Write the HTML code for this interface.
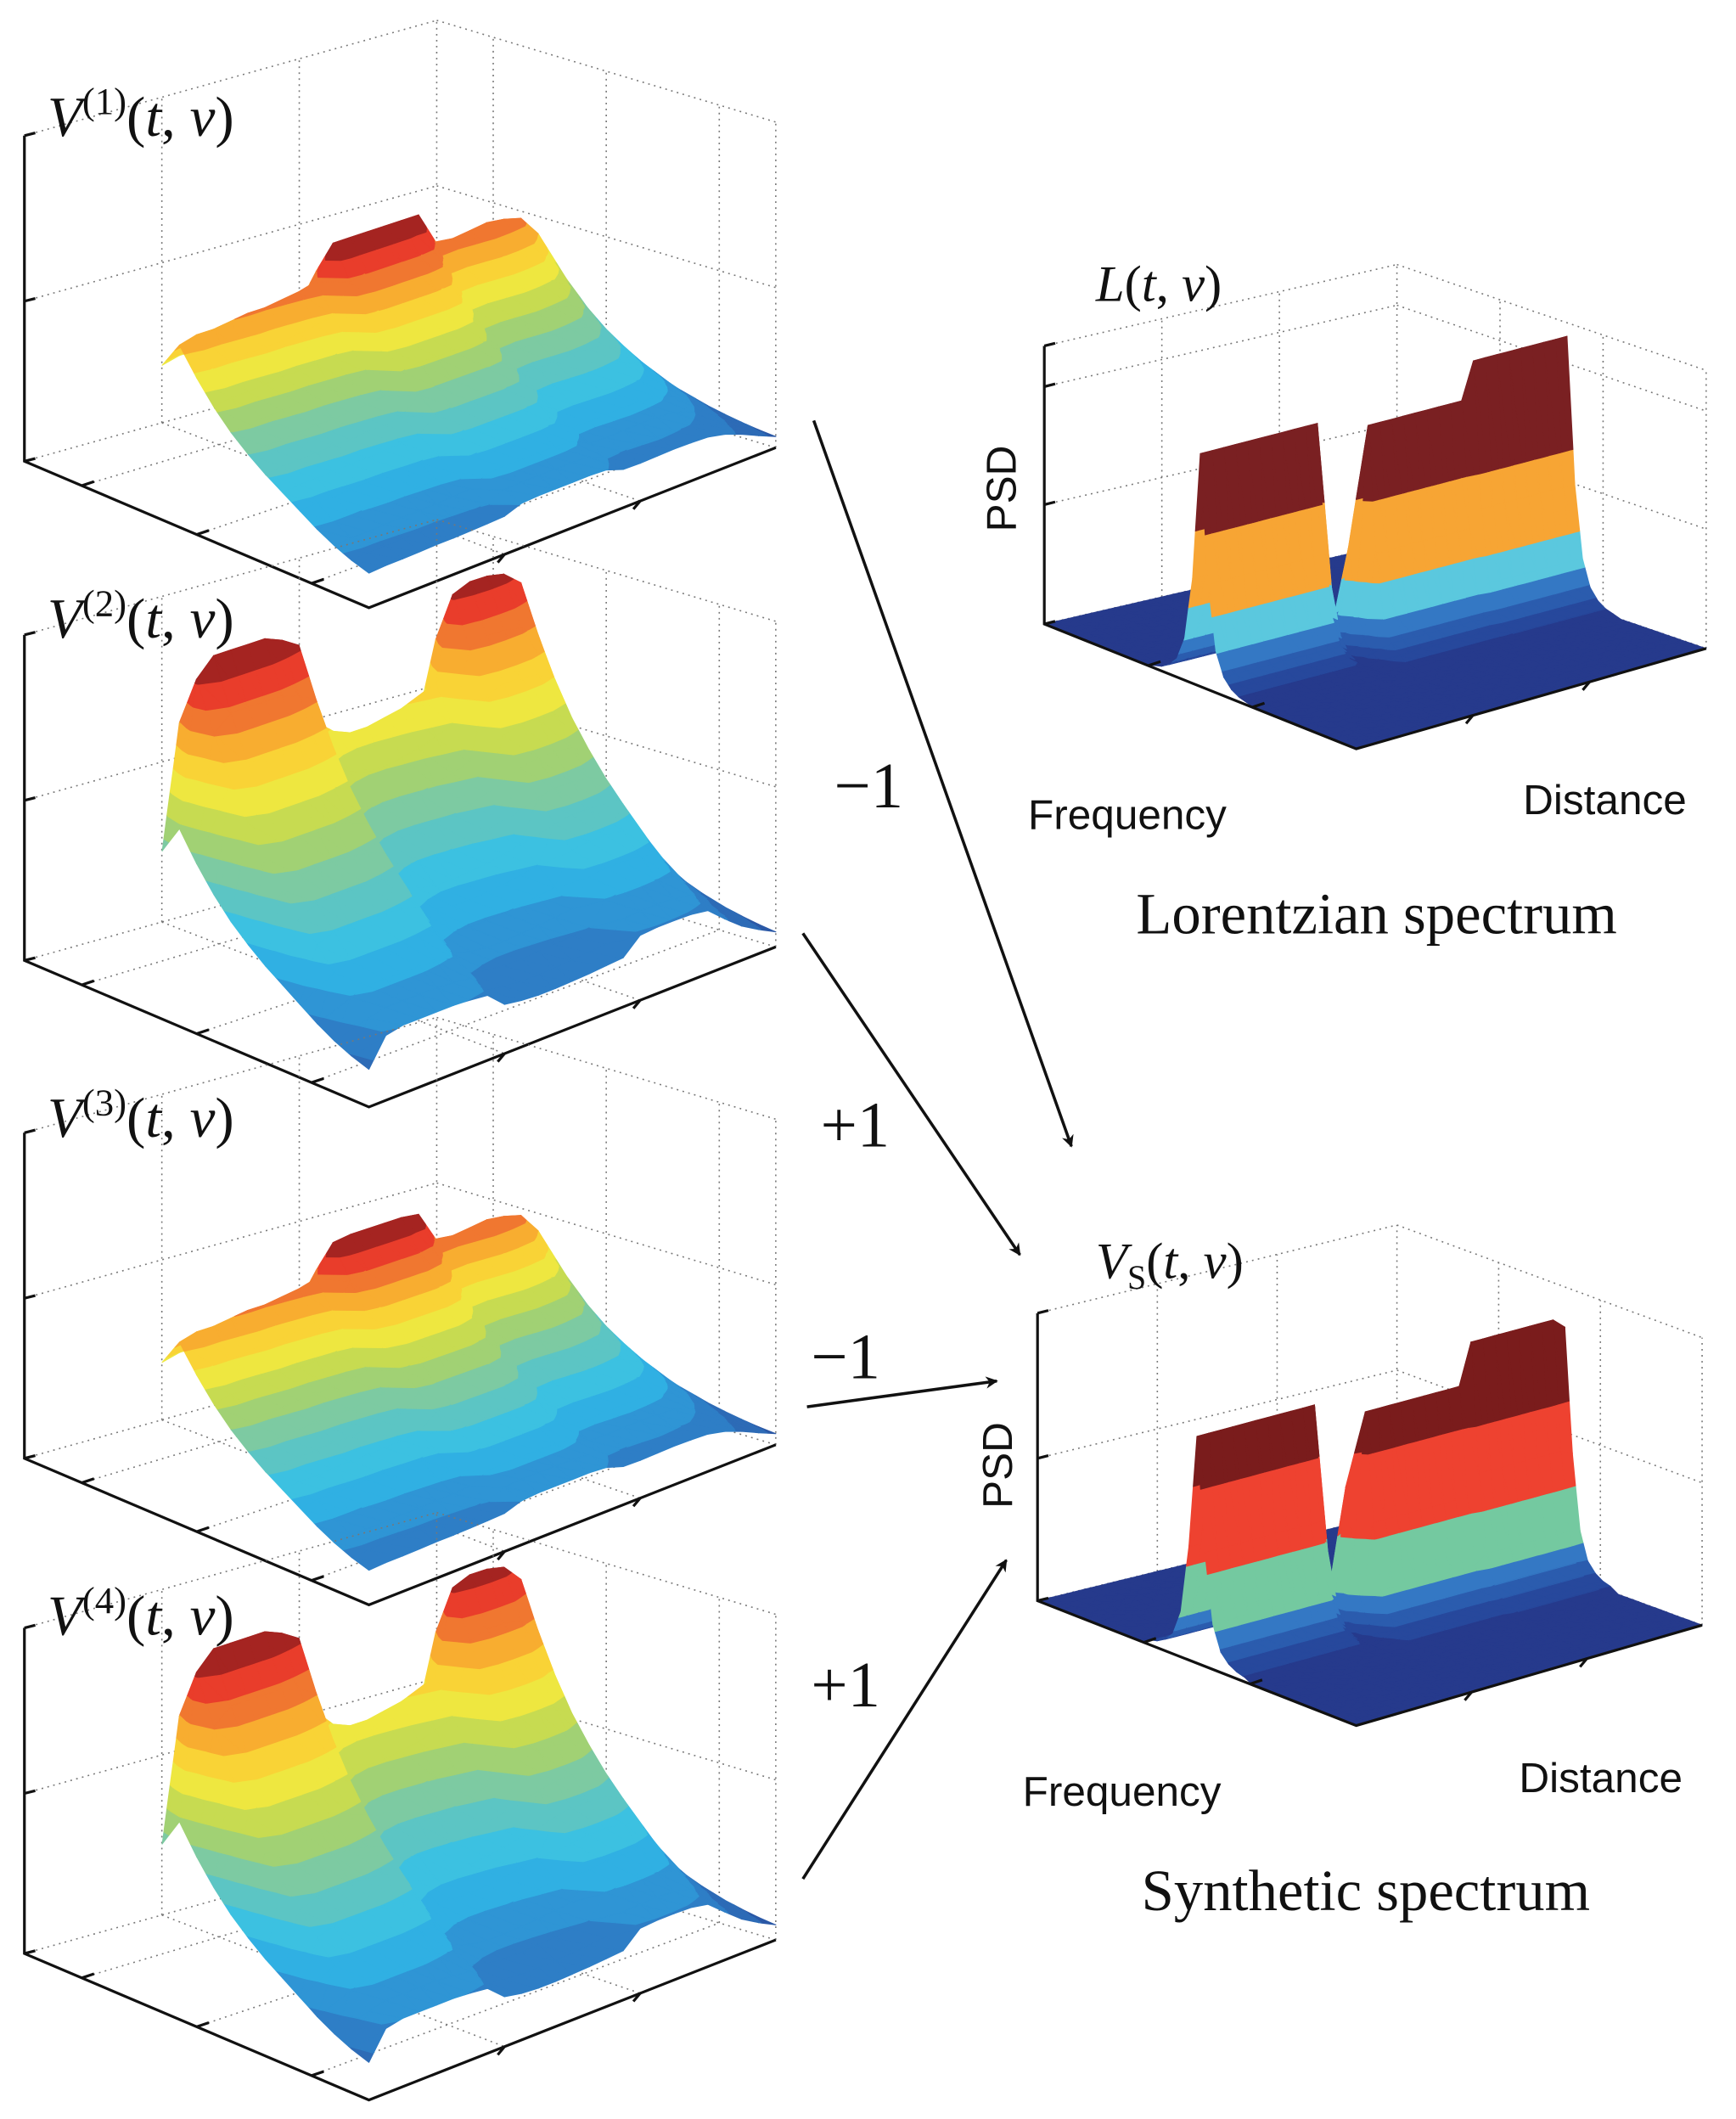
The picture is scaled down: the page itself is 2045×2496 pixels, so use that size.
<!DOCTYPE html>
<html><head><meta charset="utf-8"><style>
html,body{margin:0;padding:0;background:#fff;}
svg{display:block;}
.ser{font-family:"Liberation Serif",serif;}
.san{font-family:"Liberation Sans",sans-serif;}
</style></head><body>
<svg id="fig" width="2045" height="2496" viewBox="0 0 1280 1562" preserveAspectRatio="none" xmlns="http://www.w3.org/2000/svg">
<defs><marker id="ah" viewBox="0 0 10 10" refX="9" refY="5" markerWidth="9" markerHeight="9" orient="auto" markerUnits="userSpaceOnUse"><path d="M0,0 L10,5 L0,10 L3,5 z" fill="#111"/></marker></defs>
<g id="panels"></g>
<g class="ser" font-size="42" fill="#111">
<text x="35" y="100"><tspan font-style="italic">V</tspan><tspan font-size="28" dy="-16">(1)</tspan><tspan dy="16">(</tspan><tspan font-style="italic">t</tspan>, <tspan font-style="italic">ν</tspan>)</text>
<text x="35" y="470"><tspan font-style="italic">V</tspan><tspan font-size="28" dy="-16">(2)</tspan><tspan dy="16">(</tspan><tspan font-style="italic">t</tspan>, <tspan font-style="italic">ν</tspan>)</text>
<text x="35" y="838"><tspan font-style="italic">V</tspan><tspan font-size="28" dy="-16">(3)</tspan><tspan dy="16">(</tspan><tspan font-style="italic">t</tspan>, <tspan font-style="italic">ν</tspan>)</text>
<text x="35" y="1205"><tspan font-style="italic">V</tspan><tspan font-size="28" dy="-16">(4)</tspan><tspan dy="16">(</tspan><tspan font-style="italic">t</tspan>, <tspan font-style="italic">ν</tspan>)</text>
<text x="808" y="222" font-size="38"><tspan font-style="italic">L</tspan>(<tspan font-style="italic">t</tspan>, <tspan font-style="italic">ν</tspan>)</text>
<text x="808" y="942" font-size="38"><tspan font-style="italic">V</tspan><tspan font-size="25" dy="8">S</tspan><tspan dy="-8">(</tspan><tspan font-style="italic">t</tspan>, <tspan font-style="italic">ν</tspan>)</text>
<text x="615" y="595" font-size="48">−1</text>
<text x="605" y="845" font-size="48">+1</text>
<text x="598" y="1016" font-size="48">−1</text>
<text x="598" y="1258" font-size="48">+1</text>
<text x="1015" y="688" font-size="43" text-anchor="middle">Lorentzian spectrum</text>
<text x="1007" y="1408" font-size="43" text-anchor="middle">Synthetic spectrum</text>
</g>
<g class="san" font-size="31" fill="#111">
<text transform="translate(749,392) rotate(-90)">PSD</text>
<text x="758" y="611">Frequency</text>
<text x="1123" y="600">Distance</text>
<text transform="translate(746,1112) rotate(-90)">PSD</text>
<text x="754" y="1331">Frequency</text>
<text x="1120" y="1321">Distance</text>
</g>
<g stroke="#111" stroke-width="2.2" marker-end="url(#ah)">
<line x1="600" y1="310" x2="790" y2="845"/>
<line x1="592" y1="688" x2="752" y2="925"/>
<line x1="595" y1="1037" x2="735" y2="1018"/>
<line x1="592" y1="1385" x2="742" y2="1150"/>
</g>
</svg>
<script>
// ---- data ----
const leftFreqProfile = [0.85,1.0,0.86,0.74,0.64,0.56,0.49,0.43,0.37,0.31,0.26,0.22,0.19];
const distV1 = [0.78,0.8,0.8,0.81,0.82,0.82,0.83,0.84,0.86,1.0,1.02,1.02,1.02,1.02,1.0,0.86,0.85,0.86,0.87,0.86,0.84,0.75,0.6,0.42,0.25];
const distV2 = [0.55,0.95,1.0,1.0,1.0,1.0,0.98,0.95,0.72,0.68,0.66,0.66,0.67,0.68,0.7,0.72,0.95,0.97,0.97,0.96,0.92,0.7,0.5,0.35,0.22];
const distV3 = [0.78,0.8,0.8,0.81,0.82,0.82,0.83,0.84,0.86,0.99,1.02,1.02,1.02,1.02,0.99,0.86,0.85,0.86,0.87,0.86,0.84,0.75,0.6,0.42,0.25];
const distV4 = [0.55,0.95,1.0,1.0,1.0,1.0,0.98,0.95,0.73,0.68,0.66,0.66,0.67,0.68,0.7,0.72,0.95,0.97,0.97,0.96,0.91,0.7,0.5,0.35,0.22];
const lorShape = [0.01,0.02,0.04,0.08,0.18,0.45,1,0.45,0.18,0.08,0.04,0.02,0.01];
const lorAmp = [0.88,0.88,0.88,0.88,0.88,0.88,0.88,0.88,0.88,0.88,0.88,0.05,0.4,0.86,0.86,0.86,0.86,0.86,0.86,0.86,0.86,0.86,1.0,1.0,1.0,1.0,1.0,1.0,1.0,1.0,1.0];
const lorCenter = [20,20,20,20,20,20,20,20,20,20,20,20,21,22,22,22,22,22,22,22,22,22,22,22,22,22,22,22,22,22,22];
const synShape = [0.02,0.03,0.05,0.09,0.2,0.5,1,0.5,0.2,0.09,0.05,0.03,0.02];
const synAmp = [0.88,0.88,0.88,0.88,0.88,0.88,0.88,0.88,0.88,0.88,0.88,0.08,0.55,0.84,0.84,0.84,0.84,0.84,0.84,0.84,0.84,0.84,1.0,1.0,1.0,1.0,1.0,1.0,1.0,1.0,0.96];
const synCenter = [20,20,20,20,20,20,20,20,20,20,20,20,21,22,22,22,22,22,22,22,22,22,22,22,22,22,22,22,22,22,22];

const NS='http://www.w3.org/2000/svg';
const root=document.getElementById('panels');
function mk(tag,parent,attrs){const e=document.createElementNS(NS,tag);for(const k in attrs)e.setAttribute(k,attrs[k]);parent.appendChild(e);return e;}
function hex(h){return [parseInt(h.substr(1,2),16),parseInt(h.substr(3,2),16),parseInt(h.substr(5,2),16)];}
const jetStops=[[0,'#2a4f9e'],[0.18,'#2f85cc'],[0.32,'#30c0ec'],[0.45,'#72c8b0'],[0.57,'#b8d658'],[0.67,'#f7ea3c'],[0.76,'#fbbf30'],[0.84,'#f07a30'],[0.92,'#e8302a'],[1,'#7a1c1c']];
function jet(t){for(let i=1;i<jetStops.length;i++){if(t<=jetStops[i][0]){const a=jetStops[i-1],b=jetStops[i];const f=(t-a[0])/(b[0]-a[0]);const ca=hex(a[1]),cb=hex(b[1]);return 'rgb('+ca.map((c,k)=>Math.round(c+(cb[k]-c)*f)).join(',')+')';}}return jetStops[jetStops.length-1][1];}

function makeGeom(A,B,C,D,zH){return function(u,v,z){const a=(1-u)*(1-v),b=u*(1-v),c=u*v,d=(1-u)*v;return {x:A[0]*a+B[0]*b+C[0]*c+D[0]*d,y:A[1]*a+B[1]*b+C[1]*c+D[1]*d-z*zH,c:z};};}

function clipHalf(poly,t,above){const out=[];for(let i=0;i<poly.length;i++){const P=poly[i],Q=poly[(i+1)%poly.length];const inP=above?P.c>=t:P.c<=t,inQ=above?Q.c>=t:Q.c<=t;if(inP)out.push(P);if(inP!==inQ){const f=(t-P.c)/(Q.c-P.c);out.push({x:P.x+(Q.x-P.x)*f,y:P.y+(Q.y-P.y)*f,c:t});}}return out;}

function drawBox(g,A,B,C,D,H,ticksH,uT,vT){
  const dot={stroke:'#777','stroke-width':1,'stroke-dasharray':'1.2 3.2',fill:'none'};
  const At=[A[0],A[1]-H],Dt=[D[0],D[1]-H],Ct=[C[0],C[1]-H];
  const gl=mk('g',g,{});
  
  
  const L=(p,q)=>mk('line',gl,Object.assign({x1:p[0],y1:p[1],x2:q[0],y2:q[1]},dot));
  L(At,Dt);L(Dt,Ct);L(D,Dt);L(C,Ct);
  const lerp=(p,q,f)=>[p[0]+(q[0]-p[0])*f,p[1]+(q[1]-p[1])*f];
  vT.forEach(f=>{const p=lerp(A,D,f);L(p,[p[0],p[1]-H]);const q=lerp(B,C,f);L(lerp(A,D,f),q);});
  uT.forEach(f=>{const p=lerp(D,C,f);L(p,[p[0],p[1]-H]);L(lerp(A,B,f),p);});
  ticksH.forEach(h=>{L([A[0],A[1]-h],[D[0],D[1]-h]);L([D[0],D[1]-h],[C[0],C[1]-h]);});
  L(A,D);L(D,C);
  return function axes(){
    const ax=mk('g',g,{stroke:'#111','stroke-width':2,fill:'none'});
    
    
    mk('polyline',ax,{points:`${At[0]},${At[1]} ${A[0]},${A[1]} ${B[0]},${B[1]} ${C[0]},${C[1]}`});
    ticksH.concat([0,H]).forEach(h=>mk('line',ax,{x1:A[0],y1:A[1]-h,x2:A[0]+8,y2:A[1]-h-2}));
    uT.forEach(f=>{const p=lerp(A,B,f);mk('line',ax,{x1:p[0],y1:p[1],x2:p[0]+9,y2:p[1]-3});});
    vT.forEach(f=>{const p=lerp(B,C,f);mk('line',ax,{x1:p[0],y1:p[1],x2:p[0]-5,y2:p[1]+6});});
  };
}

function drawSurface(g,proj,us,vs,zfun,levels,colors){
  const quads=[];
  for(let i=0;i<us.length-1;i++)for(let j=0;j<vs.length-1;j++)quads.push([i,j,us[i]-vs[j]]);
  quads.sort((a,b)=>a[2]-b[2]);
  const sg=mk('g',g,{});
  
  
  quads.forEach(([i,j])=>{
    const p00=proj(us[i],vs[j],zfun(i,j)),p10=proj(us[i+1],vs[j],zfun(i+1,j)),p11=proj(us[i+1],vs[j+1],zfun(i+1,j+1)),p01=proj(us[i],vs[j+1],zfun(i,j+1));
    [[p00,p10,p11],[p00,p11,p01]].forEach(tri=>{
      for(let k=0;k<levels.length-1;k++){
        let pl=clipHalf(tri,levels[k],true);if(pl.length<3)continue;
        pl=clipHalf(pl,levels[k+1],false);if(pl.length<3)continue;
        const col=colors[k];
        const e=mk('polygon',sg,{points:pl.map(p=>p.x.toFixed(1)+','+p.y.toFixed(1)).join(' '),fill:col,stroke:col,'stroke-width':0.6,'stroke-linejoin':'round'});
        
        
      }
    });
  });
}

// left panels
const nLev=16;const leftLevels=[],leftColors=[];
for(let k=0;k<=nLev;k++)leftLevels.push(k/nLev-(k===0?1:0)+(k===nLev?1:0));
for(let k=0;k<nLev;k++)leftColors.push(jet((k+0.5)/nLev));
const leftU=leftFreqProfile.map((_,i)=>0.4+i*0.05);
const leftV=distV1.map((_,j)=>j/(distV1.length-1));
[[distV1,0,172,'panel-v1'],[distV2,368,265,'panel-v2'],[distV3,735,172,'panel-v3'],[distV4,1100,265,'panel-v4']].forEach(([G,oy,zH,name])=>{
  const g=mk('g',root,{});
  
  
  const A=[18,340+oy],B=[272,448+oy],C=[572,330+oy],D=[322,255+oy];
  const axes=drawBox(g,A,B,C,D,240,[118],[1/6,1/2,5/6],[1/3,2/3]);
  const proj=makeGeom(A,B,C,D,zH);
  drawSurface(g,proj,leftU,leftV,(i,j)=>Math.min(1,leftFreqProfile[i]*G[j]),leftLevels,leftColors);
  axes();
});

// right panels
function spectrum(name,A,B,C,D,H,zH,tickH,shape,amp,center,levels,colors){
  const g=mk('g',root,{});
  
  
  const axes=drawBox(g,A,B,C,D,H,tickH,[1/3,2/3],[1/3,2/3]);
  const proj=makeGeom(A,B,C,D,zH);
  const us=[];for(let i=0;i<=40;i++)us.push(i/40);
  const vs=amp.map((_,j)=>j/(amp.length-1));
  const half=(shape.length-1)/2;
  drawSurface(g,proj,us,vs,(i,j)=>{const k=i-center[j]+half;return (k>=0&&k<shape.length)?amp[j]*shape[k]:0;},levels,colors);
  axes();
}
spectrum('lorentzian-panel',[770,460],[1000,552],[1258,478],[1030,400],205,195,[88,175],lorShape,lorAmp,lorCenter,
  [-1,0.02,0.05,0.09,0.15,0.28,0.58,2],['#263a8c','#27489c','#2b5cae','#3478c4','#5bc8de','#f7a534','#7a2022']);
spectrum('synthetic-panel',[765,1180],[1000,1272],[1255,1198],[1030,1115],212,190,[105],synShape,synAmp,synCenter,
  [-1,0.02,0.05,0.09,0.15,0.36,0.68,2],['#263a8c','#27489c','#2b5cae','#3478c4','#74c9a0','#ee4230','#7a1c1c']);
</script>
</body></html>
